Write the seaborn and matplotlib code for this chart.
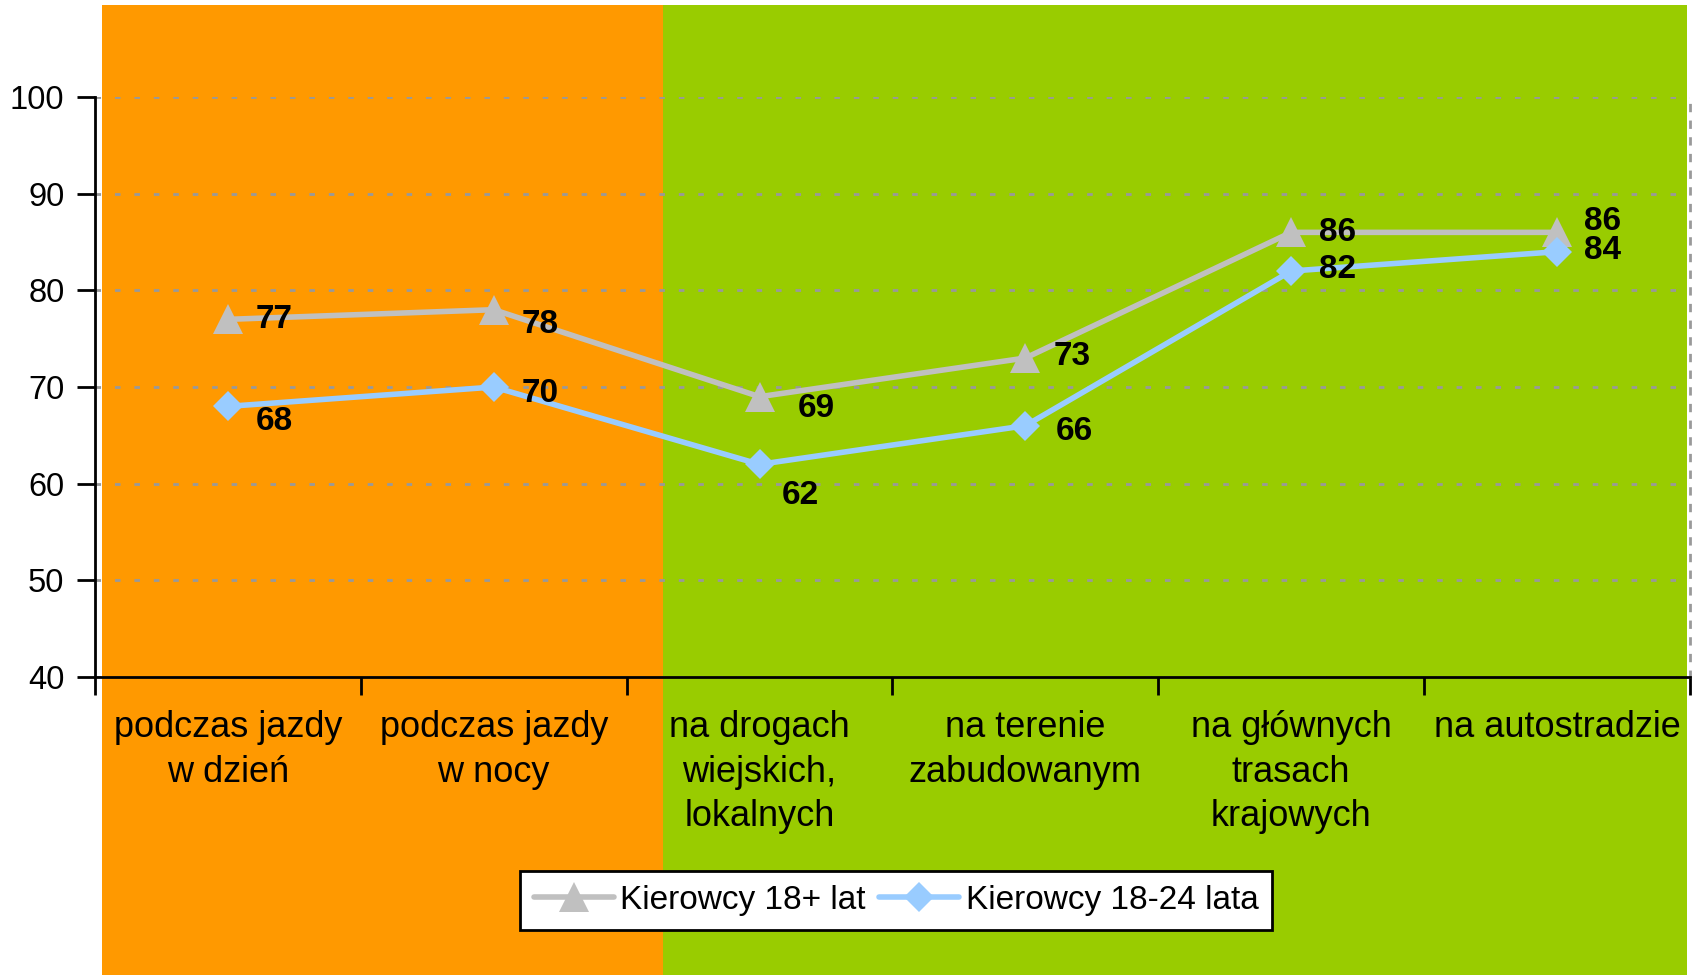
import matplotlib
matplotlib.use("Agg")
import matplotlib.pyplot as plt
import matplotlib.transforms as mtransforms
from matplotlib.patches import Rectangle
from matplotlib.lines import Line2D
import seaborn as sns
import pandas as pd

# Data
categories = [
    "podczas jazdy\nw dzień",
    "podczas jazdy\nw nocy",
    "na drogach\nwiejskich,\nlokalnych",
    "na terenie\nzabudowanym",
    "na głównych\ntrasach\nkrajowych",
    "na autostradzie",
]
series_names = ["Kierowcy 18+ lat", "Kierowcy 18-24 lata"]
adults = [77, 78, 69, 73, 86, 86]
young = [68, 70, 62, 66, 82, 84]

# value label offsets in pixels (dx, dy)
adult_offsets = [(28, 0), (28, -15), (38, -12), (28, 2), (28, 0), (27, 11)]
young_offsets = [(28, -15), (28, -6), (22, -31), (30, -6), (28, 2), (27, 1)]

rows = []
for i in range(len(categories)):
    rows.append({"pos": i, "value": adults[i], "series": series_names[0]})
    rows.append({"pos": i, "value": young[i], "series": series_names[1]})
df = pd.DataFrame(rows)

sns.set_style("white")
plt.rcParams["font.family"] = ["Liberation Sans", "DejaVu Sans"]
plt.rcParams["text.color"] = "black"
plt.rcParams["xtick.color"] = "black"
plt.rcParams["ytick.color"] = "black"

fig = plt.figure(figsize=(16.94, 9.75), dpi=100)
ax = fig.add_axes([0.0561, 0.3056, 0.9415, 0.5949])
ax.set_facecolor("none")
ax.set_xlim(-0.5, 5.5)
ax.set_ylim(40, 100)

# coloured background bands (x in data units, y in figure units)
trans = mtransforms.blended_transform_factory(ax.transData, fig.transFigure)
fig.add_artist(Rectangle((-0.474, 0), 2.111, 0.995, transform=trans,
                         facecolor="#FF9900", edgecolor="none", zorder=-1))
fig.add_artist(Rectangle((1.637, 0), 3.852, 0.995, transform=trans,
                         facecolor="#99CC00", edgecolor="none", zorder=-1))

colors = {series_names[0]: "#C0C0C0", series_names[1]: "#99CCFF"}
markers = {series_names[0]: "^", series_names[1]: "D"}
msizes = {series_names[0]: 21, series_names[1]: 15}

sns.lineplot(data=df, x="pos", y="value", hue="series", style="series",
             hue_order=series_names, style_order=series_names,
             markers=markers, dashes=False, palette=colors,
             linewidth=4, markeredgewidth=0, ax=ax, legend=False)
for line, n in zip(ax.lines, series_names):
    line.set_markersize(msizes[n])

# value labels
for i in range(len(categories)):
    dx, dy = adult_offsets[i]
    ax.annotate(str(adults[i]), (i, adults[i]), xytext=(dx, dy), textcoords="offset pixels",
                ha="left", va="center", fontsize=24, fontweight="bold", color="black")
    dx, dy = young_offsets[i]
    ax.annotate(str(young[i]), (i, young[i]), xytext=(dx, dy), textcoords="offset pixels",
                ha="left", va="center", fontsize=24, fontweight="bold", color="black")

# axes styling
ax.set_yticks(range(40, 101, 10))
ax.yaxis.grid(True, color="#999999", linestyle=(0, (2, 5)), linewidth=2)
ax.xaxis.grid(False)
ax.tick_params(axis="y", direction="out", length=13, width=2, color="black",
               labelsize=23.5, labelcolor="black", pad=9, left=True)

ax.set_xticks(range(len(categories)))
ax.set_xticklabels(categories, fontsize=26, linespacing=1.34, color="black")
ax.tick_params(axis="x", which="major", length=0, pad=24)
ax.set_xticks([i - 0.5 for i in range(len(categories) + 1)], minor=True)
ax.tick_params(axis="x", which="minor", length=13, width=2, direction="out",
               color="black", bottom=True)

ax.set_xlabel("")
ax.set_ylabel("")

ax.spines["top"].set_visible(False)
ax.spines["right"].set_linestyle((0, (2, 4)))
ax.spines["right"].set_color("#999999")
ax.spines["right"].set_linewidth(2)
for s in ["left", "bottom"]:
    ax.spines[s].set_color("black")
    ax.spines[s].set_linewidth(2)

# legend
handles = [
    Line2D([], [], color=colors[n], marker=markers[n], markersize=msizes[n],
           markeredgewidth=0, linewidth=4)
    for n in series_names
]
leg = fig.legend(handles, series_names, loc="center",
                 bbox_to_anchor=(896 / 1694, 1 - 900 / 975), bbox_transform=fig.transFigure,
                 ncol=2, frameon=True, fancybox=False, framealpha=1,
                 handlelength=2.4, handletextpad=0.2, columnspacing=0.4, borderpad=0.42,
                 prop={"family": ["Liberation Sans", "DejaVu Sans"], "size": 24})
leg.get_frame().set_edgecolor("black")
leg.get_frame().set_linewidth(2)
leg.get_frame().set_facecolor("white")

fig.savefig("out.png", dpi=100)
plt.close(fig)
